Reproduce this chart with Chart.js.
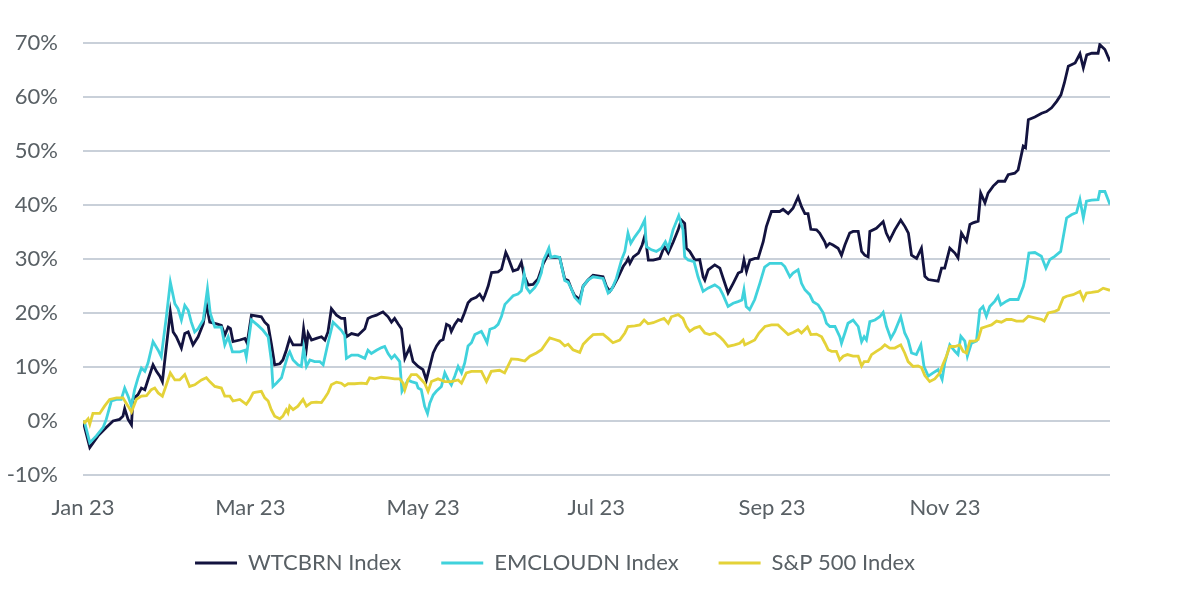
<!DOCTYPE html>
<html>
<head>
<meta charset="utf-8">
<script src="https://cdn.jsdelivr.net/npm/chart.js@4.4.1/dist/chart.umd.min.js"></script>
<style>
  html, body { margin: 0; padding: 0; background: #ffffff; }
  #wrap { width: 1200px; height: 600px; position: relative; }
</style>
</head>
<body>
<div id="wrap"><canvas id="c" width="1200" height="600"></canvas></div>
<script>
// x values are days since 1 Jan 2023
const tickDays = [0, 59, 120, 181, 243, 304];
const tickLabels = ['Jan 23', 'Mar 23', 'May 23', 'Jul 23', 'Sep 23', 'Nov 23'];
const yTicks = [-10, 0, 10, 20, 30, 40, 50, 60, 70];

const seriesNames = ['WTCBRN Index', 'EMCLOUDN Index', 'S&P 500 Index'];

const wtcbrnDays = [0,2.4,5.3,8.2,10.6,12.9,14.1,14.7,15.9,17.1,17.6,19.4,20.6,21.8,22.9,24.7,25.9,27.1,28,29.4,30.8,31.8,32.9,34.7,35.9,37.1,38.8,40.6,42.4,43.5,44.7,47.1,48.8,50,51.2,52,52.9,55.3,57.1,57.9,59.4,62.9,64.1,65.3,66.4,67.6,69.4,70.5,71.7,72.9,74.1,75.8,77.2,77.8,78.8,79.4,80.6,82.3,84.1,85.3,86.4,87.6,89.4,91.1,92.3,92.9,94.7,97,99.4,100.5,101.7,103.5,104.6,105.8,107.6,108.8,109.9,111.1,112.3,113.5,115.2,116.4,118.2,119.9,121.1,123.5,124.7,125.9,127,128.2,129.3,129.9,131.1,132.3,133.4,134.6,135.8,136.9,138.7,139.9,141.1,141.7,142.9,144.1,146.4,147.6,149.1,149.9,151.7,153.4,154.6,155.6,157,158.7,160.5,162.3,164,165.2,168.1,169.9,171.1,172.3,173.4,175.2,176.4,178.1,179.9,183.4,184.6,185.8,187,188.8,190.5,191.7,192.3,192.9,194.1,195.9,197.2,198.2,199.4,201.1,203.4,205,206.4,208.2,209.9,211,212.2,212.8,214,215.8,217.5,218.7,219.3,220.5,222.8,224.6,225.8,227.5,229.3,231.1,232.3,233.1,234,235.2,237,238.1,239.9,241,242.8,245.7,246.9,248.7,250.4,252.2,253.4,254.6,255.7,256.7,258.7,259.8,261.6,262.2,263.3,264.5,266.3,267.5,268.7,270.4,271.6,273.4,274.6,275.7,276.9,277.5,279.8,281,282.2,283.3,284.5,286.3,288.4,289.9,291.1,292.2,294,295.7,296.9,298.1,301.6,302.8,303.9,305.7,307.5,308.6,309.8,311.6,312.8,313.9,315.7,316.6,318.1,319.2,321,322.8,325.1,326.3,328.6,329.8,331.6,332.4,333.4,335.7,338.1,339.8,341.6,343.4,344.9,346.1,347.5,349.9,351.6,352.8,354,355.8,358,358.6,360.4,362.2];
const wtcbrnValues = [0,-4.9,-2.75,-1.2,0,0.3,0.9,2.3,0.3,-0.7,4,4.9,6.1,5.8,7.6,10.4,9.2,8.3,7.3,13.8,20.2,16.5,15.6,13.5,16.2,16.5,14.1,15.6,18,21.7,18.3,18,17.7,15.9,17.4,17.1,14.7,15,15.3,14.4,19.6,19.3,18.3,17.7,14.4,10.4,10.6,11.3,13.1,15.3,14.1,14.1,14.1,17.1,13.5,16.2,15,15.3,15.6,15,16.5,20.8,19.6,19,19,15.6,16.2,15.9,17.1,19,19.3,19.6,19.9,20.2,19.3,18.3,19,18,17.1,11.6,13.6,11,10.1,9.5,7.6,12.6,13.9,14.8,15.1,17.9,17.6,16.6,17.9,18.8,18.5,20.1,21.9,22.5,22.9,23.5,22.5,23.2,25,27.5,27.6,28.1,31.2,30.3,27.8,28.1,29.4,26.9,25.2,25.3,26.3,29.1,30.9,30.3,30.3,26.3,26,24.4,23.2,22.5,25,26.1,27,26.7,24.9,24,24.9,26.7,28.6,29.5,30.1,29.2,30.4,31.1,32.6,34.4,29.8,29.8,30.1,32.3,31.1,33.2,35.4,37.2,36.6,32,31.4,29.8,29.9,26.7,26.1,28,28.9,28.3,26.4,23.7,25.5,27.4,27.7,29.8,27.7,29.8,30.1,30.1,33.2,36,38.8,38.8,39.2,38.4,39.4,41.5,39.7,38.4,38.4,35.5,35.4,34.8,33.2,32.3,32.9,32.6,32,30.7,32.6,34.8,35.1,35.1,31.4,30.7,30.4,35.1,35.7,36.3,36.9,34.8,33.5,35.4,37.2,36,34.8,30.7,30.1,32,26.8,26.2,25.9,28.3,28.3,32,31.1,30.2,34.8,33.3,36.4,36.7,37,42.2,40.4,42.2,43.5,44.4,44.4,45.6,45.9,46.5,50.9,50.6,55.8,56.3,57,57.3,58,59.2,60.4,62.6,65.7,66.3,68,65.4,67.8,68.1,68.1,69.7,68.8,66.6];

const emcloudnDays = [0,0.6,2.4,4.7,7.1,8.2,10,11.8,13.5,14.7,15.9,17.1,18.2,19.4,20.6,21.8,22.9,24.7,26.5,27.6,29.4,30.8,32.4,33.5,34.7,35.9,37.1,38.2,39.4,40.6,42.4,43.9,44.9,46.5,48.8,50,51.2,52.7,55.3,57.1,57.6,59.4,61.7,63.5,65.3,66.4,67,68.2,70,71.1,72.3,72.9,74.1,75.8,77,77.8,78.8,80,81.7,83.5,84.7,86.4,88.2,89.4,91.1,92.3,92.9,94.7,97,99.4,100.5,101.7,103.5,105.3,106.4,107.6,108.8,109.9,111.7,112.5,113.5,114.6,115.8,117.6,118.2,119.3,120.5,121.5,122.3,123.5,124.6,126.4,127.6,128.8,129.9,131.1,132.3,133.5,134.6,135.8,137,138.2,139.3,140.5,141.7,142.5,143.5,145.2,146.4,147.6,148.8,149.9,151.7,153.4,154.6,155.6,156.4,157.6,159.3,160.5,161.7,162.3,163.4,164.3,165,166.4,168.1,169.9,171.1,172.3,173.4,175.2,176.4,178.1,179.9,183.4,185.2,186.4,188.1,189.9,191.1,192.2,193.2,194.6,196.4,198.1,198.7,200.5,202.2,204,205.4,206.4,208.1,210.1,211.6,212.2,213.4,215.5,216.9,218.7,220.4,222.8,224.5,225.7,227.5,229.3,231,232.4,233.1,233.9,235.1,236.9,238.7,240.4,242.2,246.3,247.5,249.3,250.4,252.2,253.4,254.6,256.3,257.5,259.3,261.1,262.2,263.4,265.2,266.9,267.5,268.7,269.8,271.6,273.4,274.6,275.5,276.3,277.5,279.3,281,282.2,283.4,284.9,286.3,288.4,289.8,291,292.2,293.9,295.5,296.6,298.1,299.8,301.6,303,303.9,305.7,307.5,308.6,309.6,311,311.9,313.3,315.1,316.3,317.4,318.6,319.8,321.6,322.7,323.7,325.7,326.9,329.8,331.6,332.2,333.6,335.7,338,339.6,341,342.7,344.8,346.9,348.6,350.4,351.6,352.8,353.9,355.7,358,358.6,360.4,362.2];
const emcloudnValues = [0,-0.3,-4,-2.75,-1.2,0.3,3.7,4,4,6.1,4.6,2.75,5.8,8,9.8,9.2,10.7,14.7,13.1,11.9,19.3,25.7,21.7,20.8,18.7,21.4,20.5,18.3,16.5,17.1,18.7,24.5,19.9,17.4,17.4,14.1,15.6,12.8,12.8,13.1,11.9,18.7,17.7,16.8,15.6,11.3,6.4,7,8,10.1,12.2,12.8,11.3,10.4,10.1,13.5,10.1,11.3,11,11,10.4,14.4,18.3,17.7,16.8,15.9,11.6,12.2,12.2,11.6,13.1,12.5,13.1,13.6,13.8,12.5,11.6,12.2,11,5.5,6.4,7.6,7.3,7,6.1,5.8,2.7,1.4,3.3,4.8,5.5,6.4,8.9,7.6,6.7,8.3,10.1,8.9,10.7,13.9,14.5,16,16.3,16.6,15.4,14.5,17,17.3,17.9,19.4,21.6,22.2,23.2,23.5,24.1,27.2,24.7,23.8,24.7,25.7,27.5,29.7,30.9,32,30.3,30.5,30.3,26,25.7,24.4,22.9,21.9,25,26.1,26.7,26.4,23.7,24.3,26.4,29.8,31.4,34.8,32.9,34.1,35.4,37.2,32.3,31.7,31.4,32,33.2,32,35.4,38,35.4,30.4,29.8,29.5,26.7,24,24.6,25.2,24.6,23.4,21.2,21.8,22.1,22.4,24.3,21.2,20.6,22.5,25.5,28.5,29.2,29.2,28.6,26.7,27.4,28,25.5,24.3,23.4,22.1,21.5,20,18.1,17.5,17.5,15.6,14.4,16.3,18.1,18.7,17.5,14.7,15.6,15,18.4,18.7,19.3,20.1,17.5,15.3,16.6,19.3,16.3,15,12.6,12.3,14.1,10.1,8.3,8.9,9.5,7.7,10.7,14.1,12.9,12.3,15.7,14.8,12,14.4,14.8,20.6,21.2,19.4,21.2,22.2,23.1,21.5,22.2,22.5,22.5,24.9,26.2,31.1,31.2,30.5,28.3,29.9,30.5,31.4,37.6,38.2,38.6,41,37.6,40.7,40.9,41,42.5,42.5,40.1];

const spxDays = [0,0.6,1.8,2.4,3.5,5.9,7.6,9.4,11.8,14.1,15.9,17.1,18.8,20.6,22.4,24.1,25.3,26.5,28,29.4,30.8,32.4,34.1,35.9,37.6,39.4,41.8,43.5,44.7,46.5,48.8,50,51.8,52.9,55.3,57.6,58.8,60,60.6,62.9,64.1,65.3,66.4,67.6,69.4,70.5,71.7,72.3,72.9,74.1,75.8,77.6,78.8,80.5,82.3,84.1,85.3,86.4,87.6,89.4,91.1,92.3,93.5,95.8,98.2,100,101.1,102.9,105.2,107.6,109.9,111.7,112.9,113.5,114.6,115.8,117.6,118.2,120.5,121.7,122.9,125.2,127.6,129.9,132.3,133.5,135.2,137,140.5,142.3,144,146.9,148.7,151.1,153.4,155.8,157.6,159.9,161.7,163.4,164.6,166.4,168.1,169.9,171.1,172.8,175.2,176.4,178.2,179.9,183.4,185.2,186.9,189.3,191.1,192.2,194.6,196.4,197.9,199.3,201.1,203.4,204.9,206.4,207.5,209.9,211.6,212.8,214,215.7,217.5,219.3,221,222.8,224.6,225.7,227.5,229.8,231.6,232.8,233.4,234.6,236.9,238.4,240.5,242.8,245.1,246.9,248.7,250.4,252.2,253.4,255.5,256.7,258.7,260.5,261.7,262.8,264,265.7,266.9,268.1,269.6,271.6,273.4,274.6,275.5,276.9,278.1,279.8,281.6,282.8,284.5,286.3,288.4,289.8,291,292.8,294.5,295.7,296.9,298.6,300.4,302.2,303.3,304.5,305.7,307.5,309.2,310.4,311.6,312.8,314.5,315.7,316.9,318.6,320.4,322.2,323.9,325.7,327.4,329.2,331.6,333.4,335.7,338.1,339,340.4,342.8,344,345.7,346.9,349.2,351.6,352.8,353.9,355.7,358,359.8,362.2];
const spxValues = [0,-0.3,0.4,-0.6,1.4,1.4,2.75,4,4.3,4.3,2.75,1.65,4,4.6,4.7,5.8,6.1,5.2,4.6,6.7,8.9,7.6,7.6,8.6,6.4,6.7,7.6,8,7.3,6.4,6.1,4.6,4.6,3.7,4,3.1,4,5.2,5.3,5.5,4.3,3.7,2.1,0.9,0.4,0.9,2.1,1.5,2.75,2.1,2.75,4,2.75,3.4,3.5,3.4,4.3,5.2,6.7,7.2,7,6.5,6.9,6.9,7,6.9,8,7.8,8.1,8,7.8,7.8,7,5.8,7.6,8.6,8.6,8.3,7,5.5,7.3,7.8,7.3,7.3,7.6,7,8.9,9.2,9.2,7.3,9.2,9.4,8.9,11.5,11.4,11.1,12,12.6,13.2,14.5,15.4,15.1,14.8,13.9,14.2,13.2,12.7,14.2,15.2,16,16.1,15.3,14.5,15,16.3,17.5,17.6,17.8,18.7,18,18.2,18.7,19,18.1,19.3,19.7,19,17.5,16.6,17.2,17.5,16.3,16,16.3,15.6,15,13.8,14.1,14.4,15,14.1,14.4,15,16.3,17.5,17.8,17.8,16.9,16,16.4,16.9,16.3,17.4,16,16.1,15.6,14.4,13.2,12.9,12.9,11.3,12,12.3,12,12,10.2,11,11,12.3,12.9,13.5,14.1,13.5,13.5,14.1,12.6,11,10.1,10.2,9.9,8.4,7.3,7.8,8.9,10.5,12,13.8,13.8,14.1,12.9,12.6,14.8,14.8,15.1,17.2,17.5,17.8,18.5,18.3,18.8,18.8,18.5,18.5,19.4,19.1,18.8,18.5,20,20.3,20.6,22.8,23.1,23.4,24,22.5,23.7,23.8,24,24.6,24.2];

const seriesColors = ['#13133f', '#40d2dc', '#e4d238'];

function pts(days, vals) { return days.map((d, i) => ({ x: d, y: vals[i] })); }

const FONT = 'Lato, "Open Sans", sans-serif';
const TEXT = '#596065';

// moves the legend box up a little after layout (keeps x tick labels unclipped)
const legendShift = {
  id: 'legendShift',
  afterLayout(chart) {
    if (chart.legend) { chart.legend.top -= 11; chart.legend.bottom -= 11; }
  }
};

new Chart(document.getElementById('c'), {
  type: 'line',
  data: {
    datasets: [
      { label: seriesNames[0], data: pts(wtcbrnDays, wtcbrnValues), borderColor: seriesColors[0], backgroundColor: seriesColors[0] },
      { label: seriesNames[1], data: pts(emcloudnDays, emcloudnValues), borderColor: seriesColors[1], backgroundColor: seriesColors[1] },
      { label: seriesNames[2], data: pts(spxDays, spxValues), borderColor: seriesColors[2], backgroundColor: seriesColors[2] }
    ].map((d, i) => Object.assign(d, { borderWidth: 2.8, pointRadius: 0, tension: 0, fill: false, order: 2 - i }))
  },
  plugins: [legendShift],
  options: {
    responsive: false,
    animation: false,
    layout: { padding: { top: 43, right: 90, left: 0, bottom: 5 } },
    scales: {
      x: {
        type: 'linear',
        min: 0,
        max: 362.2,
        grid: { display: false, drawTicks: false },
        border: { display: false },
        afterBuildTicks: (s) => { s.ticks = tickDays.map(v => ({ value: v })); },
        afterFit: (s) => { s.height = 48; },
        ticks: {
          autoSkip: false,
          maxRotation: 0,
          padding: 20,
          color: TEXT,
          font: { family: FONT, size: 22 },
          callback: (v) => { const i = tickDays.indexOf(v); return i >= 0 ? tickLabels[i] : ''; }
        }
      },
      y: {
        min: -10,
        max: 70,
        afterBuildTicks: (s) => { s.ticks = yTicks.map(v => ({ value: v })); },
        afterFit: (s) => { s.width = 83; },
        grid: { color: '#c9d0d9', lineWidth: 2, drawTicks: false },
        border: { display: false },
        ticks: {
          padding: 25,
          color: TEXT,
          font: { family: FONT, size: 22 },
          callback: (v) => v + '%'
        }
      }
    },
    plugins: {
      tooltip: { enabled: false },
      legend: {
        position: 'bottom',
        labels: {
          boxWidth: 42,
          boxHeight: 3,
          padding: 40,
          color: TEXT,
          font: { family: FONT, size: 22 },
          generateLabels: (chart) => chart.data.datasets.map((d, i) => ({
            text: d.label,
            fillStyle: d.borderColor,
            strokeStyle: d.borderColor,
            lineWidth: 0,
            hidden: false,
            datasetIndex: i,
            fontColor: TEXT
          }))
        }
      }
    }
  }
});
</script>
</body>
</html>
